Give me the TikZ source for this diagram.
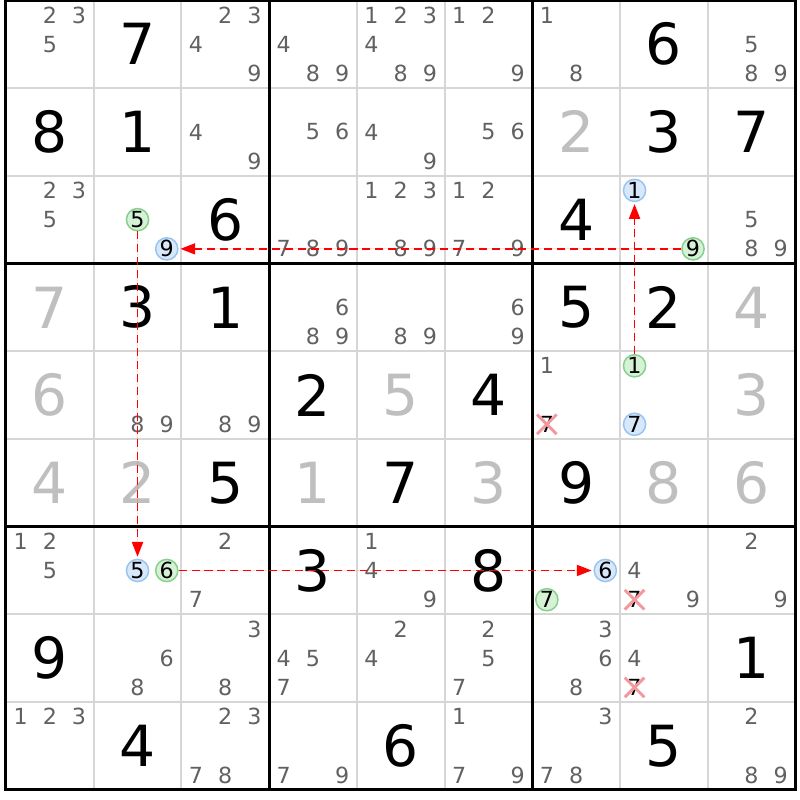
\documentclass[tikz,border=0pt]{standalone}
\usepackage{fontspec}
\setmainfont{DejaVu Sans}
\usetikzlibrary{arrows.meta,shapes.misc}

\begin{document}
\begin{tikzpicture}[x=2.5cm,y=-2.5cm,
    given/.style={inner sep=0,font=\fontsize{46}{50}\selectfont},
    solved/.style={given,text=solvedgray},
    cand/.style={inner sep=0,text=candgray,font=\fontsize{18}{20}\selectfont},
    onchain/.style={cand,text=black,circle,line width=1.2pt,minimum size=18pt},
    chaingreen/.style={onchain,draw=ringgreen,fill=fillgreen},
    chainblue/.style={onchain,draw=ringblue,fill=fillblue},
    struck/.style={cand,text=black,cross out,draw=crosspink,line width=2.4pt,minimum size=13.5pt},
    thingrid/.style={draw=gridgray,line width=1.6pt},
    boxline/.style={draw=black,line width=2.4pt},
    link/.style={draw=linkred,fill=linkred,line width=1.3pt,dash pattern=on 6.5pt off 4pt,
      -{Triangle[length=12pt,width=9pt]},shorten >=1.5pt}]
    \definecolor{solvedgray}{rgb}{0.75, 0.75, 0.75}
    \definecolor{candgray}{rgb}{0.38, 0.38, 0.38}
    \definecolor{gridgray}{rgb}{0.84, 0.84, 0.84}
    \definecolor{ringgreen}{rgb}{0.52, 0.82, 0.55}
    \definecolor{fillgreen}{rgb}{0.84, 0.95, 0.84}
    \definecolor{ringblue}{rgb}{0.6, 0.77, 0.95}
    \definecolor{fillblue}{rgb}{0.84, 0.91, 0.98}
    \definecolor{crosspink}{rgb}{0.95, 0.6, 0.62}
    \definecolor{linkred}{rgb}{1, 0, 0}
    \useasboundingbox[fill=white] (-0.068,-0.004) rectangle (9.053,9.117);

    % cell lines
    \foreach \i in {1,2,4,5,7,8} {
      \draw[thingrid] (\i,0) -- (\i,9);
      \draw[thingrid] (0,\i) -- (9,\i);
    }

    % givens and solved cells
    \foreach \r/\c/\v in {1/2/7, 1/8/6, 2/1/8, 2/2/1, 2/8/3, 2/9/7, 3/3/6, 3/7/4,
        4/2/3, 4/3/1, 4/7/5, 4/8/2, 5/4/2, 5/6/4, 6/3/5, 6/5/7, 6/7/9,
        7/4/3, 7/6/8, 8/1/9, 8/9/1, 9/2/4, 9/5/6, 9/8/5}
      \node[given] (g\r\c) at (\c-0.5,\r-0.5) {\v};
    \foreach \r/\c/\v in {2/7/2, 4/1/7, 4/9/4, 5/1/6, 5/5/5, 5/9/3,
        6/1/4, 6/2/2, 6/4/1, 6/6/3, 6/8/8, 6/9/6}
      \node[solved] (g\r\c) at (\c-0.5,\r-0.5) {\v};

    % candidates
    \foreach \r/\c/\ds in {1/1/{2,3,5}, 1/3/{2,3,4,9}, 1/4/{4,8,9}, 1/5/{1,2,3,4,8,9},
        1/6/{1,2,9}, 1/7/{1,8}, 1/9/{5,8,9},
        2/3/{4,9}, 2/4/{5,6}, 2/5/{4,9}, 2/6/{5,6},
        3/1/{2,3,5}, 3/4/{7,8,9}, 3/5/{1,2,3,8,9}, 3/6/{1,2,7,9}, 3/9/{5,8,9},
        4/4/{6,8,9}, 4/5/{8,9}, 4/6/{6,9},
        5/2/{8,9}, 5/3/{8,9}, 5/7/{1},
        7/1/{1,2,5}, 7/3/{2,7}, 7/5/{1,4,9}, 7/8/{4,9}, 7/9/{2,9},
        8/2/{6,8}, 8/3/{3,8}, 8/4/{4,5,7}, 8/5/{2,4}, 8/6/{2,5,7}, 8/7/{3,6,8}, 8/8/{4},
        9/1/{1,2,3}, 9/3/{2,3,7,8}, 9/4/{7,9}, 9/6/{1,7,9}, 9/7/{3,7,8}, 9/9/{2,8,9}} {
      \foreach \d in \ds {
        \pgfmathsetmacro\px{\c-1+(2*mod(\d-1,3)+1)/6}
        \pgfmathsetmacro\py{\r-1+(2*int((\d-1)/3)+1)/6}
        \node[cand] (r\r c\c n\d) at (\px,\py) {\d};
      }
    }

    \node[struck] (r5c7n7) at (6+1/6,4+5/6) {7};
    \node[struck] (r7c8n7) at (7+1/6,6+5/6) {7};
    \node[struck] (r8c8n7) at (7+1/6,7+5/6) {7};

    \node[chaingreen] (r3c2n5) at (1.5,2.5) {5};
    \node[chainblue] (r3c2n9) at (1+5/6,2+5/6) {9};
    \node[chainblue] (r3c8n1) at (7+1/6,2+1/6) {1};
    \node[chaingreen] (r3c8n9) at (7+5/6,2+5/6) {9};
    \node[chaingreen] (r5c8n1) at (7+1/6,4+1/6) {1};
    \node[chainblue] (r5c8n7) at (7+1/6,4+5/6) {7};
    \node[chainblue] (r7c2n5) at (1.5,6.5) {5};
    \node[chaingreen] (r7c2n6) at (1+5/6,6.5) {6};
    \node[chainblue] (r7c7n6) at (6+5/6,6.5) {6};
    \node[chaingreen] (r7c7n7) at (6+1/6,6+5/6) {7};

    % box lines
    \draw[boxline] (0,0) rectangle (9,9);
    \foreach \i in {3,6} {
      \draw[boxline] (\i,0) -- (\i,9);
      \draw[boxline] (0,\i) -- (9,\i);
    }

    \draw[link] (r3c8n9) -- (r3c2n9);
    \draw[link] (r3c2n5) -- (r7c2n5);
    \draw[link] (r7c2n6) -- (r7c7n6);
    \draw[link] (r5c8n1) -- (r3c8n1);
\end{tikzpicture}
\end{document}
